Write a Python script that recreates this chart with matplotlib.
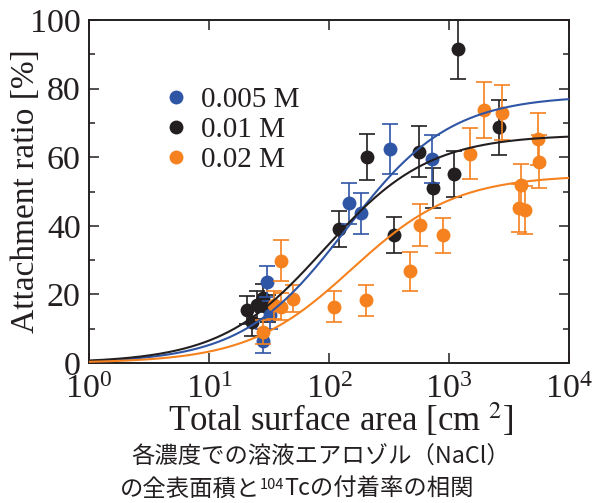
import numpy as np
import matplotlib
matplotlib.use('Agg')
import matplotlib.pyplot as plt
from matplotlib.ticker import LogLocator, MultipleLocator, NullLocator

# ---- data ----
blue_x = [322, 147, 184, 717, 30.3, 28.4, 32]
blue_y = [62.4, 46.6, 43.6, 59.4, 23.7, 6.5, 14.0]
blue_e = [7.2, 6.0, 6.0, 7.0, 4.5, 3.5, 4.0]

black_x = [1196, 208, 566, 740, 120, 350, 1107, 2610, 20.6, 22.7, 25.0, 28.4, 31.2]
black_y = [91.4, 60.0, 61.6, 51.0, 39.0, 37.3, 55.1, 68.7, 15.5, 12.0, 16.9, 18.9, 15.9]
black_e = [8.7, 6.7, 7.4, 5.8, 5.2, 5.2, 6.8, 8.0, 4.0, 4.0, 4.0, 4.0, 4.0]

orange_x = [110, 203, 473, 572, 898, 1506, 1944, 2765, 3981, 3830, 4300, 5520, 5660,
            39.8, 49.8, 39.6, 35.0, 28.4]
orange_y = [16.4, 18.3, 26.8, 40.2, 37.3, 61.0, 73.8, 73.0, 51.9, 45.1, 44.6, 65.3, 58.7,
            29.8, 18.7, 16.4, 16.9, 9.1]
orange_e = [4.5, 4.5, 5.7, 6.2, 5.1, 7.4, 8.2, 8.0, 6.0, 7.0, 7.0, 7.5, 7.8,
            6.0, 3.9, 4.0, 4.0, 3.5]

# Langmuir-type fit parameters y = A x / (x + K)
fit_A = {'0.005 M': 78.0, '0.01 M': 66.6, '0.02 M': 54.8}
fit_K = {'0.005 M': 139.0, '0.01 M': 92.0, '0.02 M': 155.0}

labels = ['0.005 M', '0.01 M', '0.02 M']
colors = {'0.005 M': '#2f55a5', '0.01 M': '#231f20', '0.02 M': '#f5821f'}
series = {'0.005 M': (blue_x, blue_y, blue_e),
          '0.01 M': (black_x, black_y, black_e),
          '0.02 M': (orange_x, orange_y, orange_e)}

plt.rcParams['font.family'] = ['Liberation Serif', 'DejaVu Serif']
plt.rcParams['mathtext.fontset'] = 'stix'

W, H = 597, 503
fig = plt.figure(figsize=(W/100, H/100), dpi=100)
ax = fig.add_axes([89/W, 1-363/H, 480/W, 343/H])

draw_order = ['0.01 M', '0.005 M', '0.02 M']
z = {'0.01 M': 3, '0.005 M': 4, '0.02 M': 5}
for lab in draw_order:
    x, y, e = series[lab]
    ax.errorbar(x, y, yerr=e, fmt='o', color=colors[lab], ms=10, mec='none',
                elinewidth=1.2, capsize=5.5, capthick=1.2, zorder=z[lab])

xs = np.logspace(0, 4, 400)
for lab in labels:
    ax.plot(xs, fit_A[lab]*xs/(xs+fit_K[lab]), color=colors[lab], lw=1.5, zorder=6)

ax.set_xscale('log')
ax.set_xlim(1, 1e4)
ax.set_ylim(0, 100)
ax.xaxis.set_major_locator(LogLocator(base=10, numticks=10))
ax.xaxis.set_minor_locator(NullLocator())
ax.yaxis.set_major_locator(MultipleLocator(20))
ax.yaxis.set_minor_locator(MultipleLocator(10))
ax.tick_params(which='both', direction='in', top=True, right=True, width=1.1,
               labelsize=24.5, colors='#231f20', pad=6)
ax.tick_params(axis='x', which='both', pad=8)
ax.tick_params(which='major', length=7)
ax.tick_params(which='minor', length=4.3)
for s in ax.spines.values():
    s.set_linewidth(1.4)
    s.set_color('#231f20')

ax.set_xlabel('Total surface area [cm $^{2}$]', fontsize=25, color='#231f20', labelpad=0)
ax.xaxis.set_label_coords(0.525, -0.11)
ax.set_ylabel('Attachment ratio [%]', fontsize=24, color='#231f20', labelpad=-8)

# legend
handles = [plt.Line2D([], [], ls='none', marker='o', ms=10, mec='none', color=colors[l]) for l in labels]
leg = ax.legend(handles, labels, loc='upper left', bbox_to_anchor=(0.12, 0.84),
                frameon=False, fontsize=21, handletextpad=0.25, labelspacing=0.13,
                handlelength=1.2, borderaxespad=0)
for t in leg.get_texts():
    t.set_color('#231f20')

cjk = ['Noto Sans CJK JP', 'DejaVu Sans']
fig.text(321/W, 1-457/H, '各濃度での溶液エアロゾル（NaCl）', family=cjk, fontsize=16.8,
         ha='center', va='center', color='#231f20')

# second caption line, built from pieces so that "104" is a real superscript
renderer = fig.canvas.get_renderer()
parts = [('の全表面積と', 16.8, 0), ('104', 10.5, 7), ('Tcの付着率の相関', 16.8, 0)]
tmp = []
for s, fs, dy in parts:
    t = fig.text(0, 0, s, family=cjk, fontsize=fs, color='#231f20', va='baseline')
    tmp.append(t)
widths = [t.get_window_extent(renderer).width for t in tmp]
total = sum(widths)
x0 = 297 - total/2
base = 496
for t, w, (s, fs, dy) in zip(tmp, widths, parts):
    t.set_position((x0/W, 1-(base - dy)/H))
    x0 += w

fig.savefig('out.png', dpi=100)
